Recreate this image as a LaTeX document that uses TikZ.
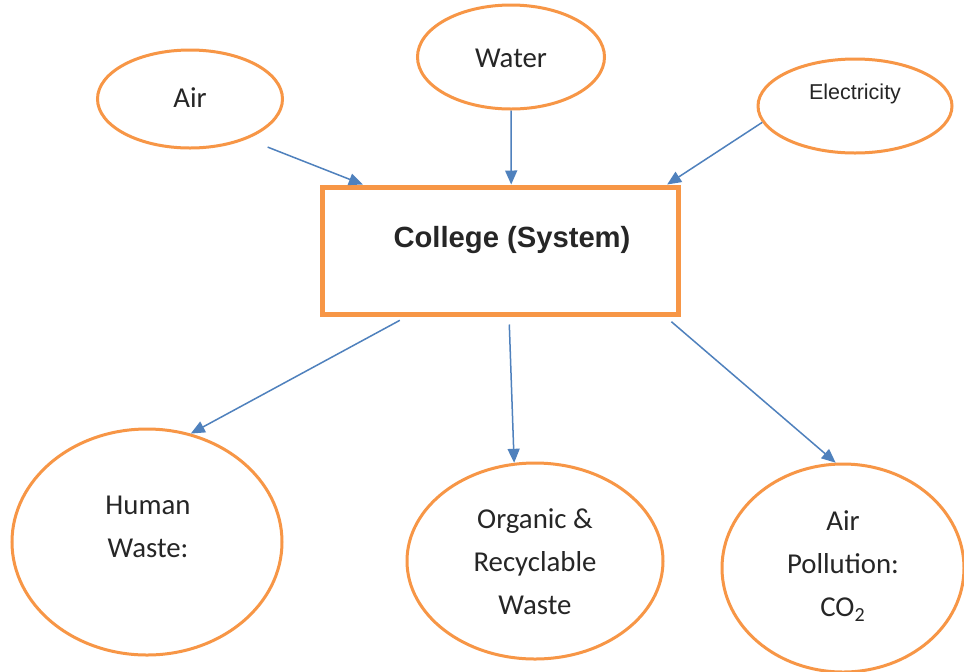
\documentclass[tikz,border=0pt]{standalone}
\usepackage{fontspec}
\setmainfont{Carlito}
\newfontfamily\arialfont{Liberation Sans}
\usetikzlibrary{arrows.meta, calc, shapes.geometric}

\definecolor{boxorange}{HTML}{F79646}
\definecolor{flowblue}{HTML}{4F81BD}
\definecolor{labelgray}{HTML}{262626}

\begin{document}
\begin{tikzpicture}[x=0.5pt, y=-0.5pt,
        source/.style = {ellipse, draw=boxorange, line width=1.5pt, inner sep=0pt},
        system/.style = {rectangle, draw=boxorange, line width=2.5pt, inner sep=0pt},
        caption/.style = {text=labelgray, align=center, font=\fontsize{14.4}{21.5}\selectfont},
        flow/.style = {-{Triangle[length=7pt, width=6pt]}, draw=flowblue, line width=0.75pt}]

    % Frame:
    \fill[white] (0,0) rectangle (964,671);
    \useasboundingbox (0,0) rectangle (964,671);

    % Inputs:
    \node[source, minimum width=92.5pt, minimum height=49pt] (air) at (190,99) {};
    \node[caption] (airtxt) at (190,98) {Air};
    \node[source, minimum width=93.5pt, minimum height=52pt] (water) at (511,57) {};
    \node[caption] (watertxt) at (511,58) {Water};
    \node[source, minimum width=97pt, minimum height=47pt] (elec) at (855,106) {};
    \node[caption, font=\arialfont\fontsize{10.75}{13}\selectfont] (electxt) at (855,94) {Electricity};

    % System:
    \node[system, minimum width=178pt, minimum height=63.5pt] (college) at (500,250.5) {};
    \node[caption, font=\arialfont\bfseries\fontsize{14.6}{17}\selectfont] (collegetxt) at (512,240) {College (System)};

    % Outputs:
    \node[source, minimum width=135pt, minimum height=113pt] (human) at (147,542) {};
    \node[caption] (humantxt) at (148,527) {Human\\Waste:};
    \node[source, minimum width=128pt, minimum height=98pt] (organic) at (535,561) {};
    \node[caption] (organictxt) at (535,562) {Organic \&\\Recyclable\\Waste};
    \node[source, minimum width=121pt, minimum height=104pt] (airpol) at (843,568) {};
    \node[caption] (airpoltxt) at (843,566) {Air\\Pollution:\\CO\textsubscript{2}};

    % Flows:
    \coordinate (inair) at ($(college.north west)!0.12!(college.north east)$);
    \coordinate (inwater) at ($(college.north west)!0.531!(college.north east)$);
    \coordinate (inelec) at ($(college.north west)!0.963!(college.north east)$);
    \coordinate (outhuman) at ($(college.south west)!0.242!(college.south east)$);
    \coordinate (outorganic) at ($(college.south west)!0.525!(college.south east)$);
    \coordinate (outairpol) at ($(college.south west)!0.958!(college.south east)$);

    \draw[flow, shorten <=11pt] (air.-35) -- (inair);
    \draw[flow] (water.south) -- (inwater);
    \draw[flow] (elec.190) -- (inelec);
    \draw[flow, shorten <=4pt] (outhuman) -- (human.68);
    \draw[flow, shorten <=4pt] (outorganic) -- (organic.102);
    \draw[flow, shorten <=4pt] (outairpol) -- (airpol.94);
\end{tikzpicture}
\end{document}
